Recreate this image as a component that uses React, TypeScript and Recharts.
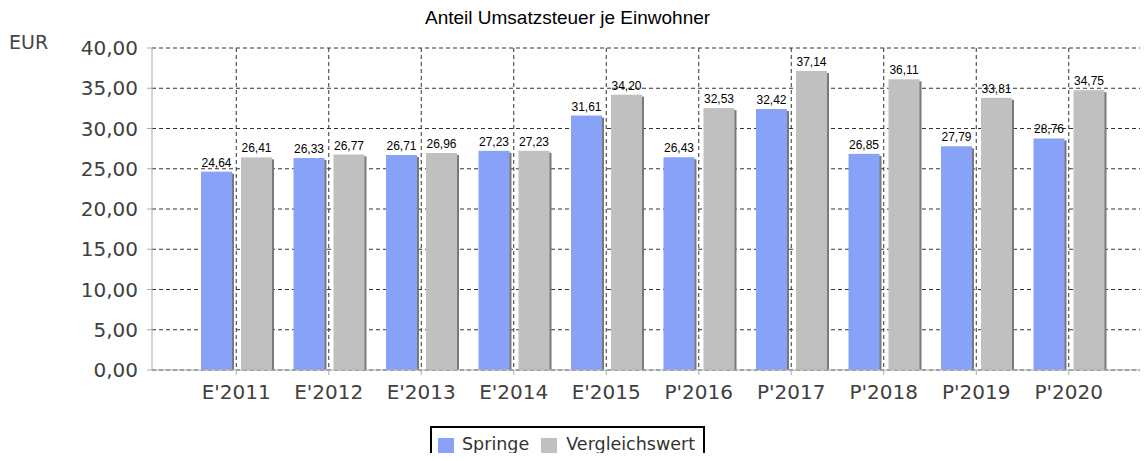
import { Bar, BarChart, CartesianGrid, LabelList, XAxis, YAxis } from 'recharts'

// Anteil Umsatzsteuer je Einwohner (EUR)
const years = ["E'2011", "E'2012", "E'2013", "E'2014", "E'2015", "P'2016", "P'2017", "P'2018", "P'2019", "P'2020"]
const springe = [24.64, 26.33, 26.71, 27.23, 31.61, 26.43, 32.42, 26.85, 27.79, 28.76]
const vergleichswert = [26.41, 26.77, 26.96, 27.23, 34.2, 32.53, 37.14, 36.11, 33.81, 34.75]
const yTicks = [0, 5, 10, 15, 20, 25, 30, 35, 40]

const chartData = years.map((year, i) => ({
  year,
  springe: springe[i],
  vergleich: vergleichswert[i],
}))

const fmt = (v: number) => v.toFixed(2).replace('.', ',')

const SANS = '"DejaVu Sans", Verdana, sans-serif'
const ARIAL = '"Liberation Sans", Arial, sans-serif'

// bar with a thin grey drop shadow on the right
function ShadowBar(props: any) {
  const { x, y, width, height, fill } = props
  if (height <= 0) return null
  return (
    <g>
      <rect x={x + 2} y={y + 2} width={width} height={height - 2} fill="#7a7a7a" />
      <rect x={x} y={y} width={width} height={height} fill={fill} />
    </g>
  )
}

function App() {
  return (
    <div style={{ position: 'relative', width: 1148, height: 461, margin: -8, overflow: 'hidden', background: '#fff' }}>
      <div style={{ position: 'absolute', top: 7, left: 425, fontFamily: ARIAL, fontSize: 19, color: '#000', whiteSpace: 'nowrap' }}>
        Anteil Umsatzsteuer je Einwohner
      </div>
      <div style={{ position: 'absolute', top: 31, left: 9, fontFamily: SANS, fontSize: 19, color: '#444' }}>EUR</div>
      <BarChart
        width={1148}
        height={461}
        data={chartData}
        margin={{ top: 48, right: 0, left: 0, bottom: 0 }}
        barGap={9}
        barCategoryGap={11}
      >
        {/* vertical grid only at the category ticks */}
        <CartesianGrid stroke="#333" strokeDasharray="4 3" verticalValues={years} horizontalValues={yTicks} />
        <XAxis
          dataKey="year"
          height={91}
          padding={{ left: 38, right: 33 }}
          stroke="#aaa"
          tickSize={5}
          tickMargin={10}
          tick={{ fill: '#404040', fontSize: 20, fontFamily: SANS }}
        />
        <YAxis
          width={152}
          domain={[0, 40]}
          ticks={yTicks}
          tickFormatter={fmt}
          stroke="#aaa"
          tickSize={5}
          tickMargin={9}
          tick={{ fill: '#404040', fontSize: 20, fontFamily: SANS }}
        />
        <Bar dataKey="springe" fill="#87a2f7" shape={ShadowBar} isAnimationActive={false}>
          <LabelList dataKey="springe" position="top" offset={5} formatter={(v: any) => fmt(v)} fill="#000" fontSize={12} fontFamily={ARIAL} />
        </Bar>
        <Bar dataKey="vergleich" fill="#c0c0c0" shape={ShadowBar} isAnimationActive={false}>
          <LabelList dataKey="vergleich" position="top" offset={5} formatter={(v: any) => fmt(v)} fill="#000" fontSize={12} fontFamily={ARIAL} />
        </Bar>
      </BarChart>
      <div
        style={{
          position: 'absolute',
          top: 426,
          left: 430,
          width: 275,
          height: 45,
          border: '2px solid #000',
          fontFamily: SANS,
          fontSize: 17.5,
          lineHeight: '20px',
          color: '#333',
          display: 'flex',
          alignItems: 'flex-start',
          paddingTop: 6,
          paddingLeft: 6,
          boxSizing: 'border-box',
          background: '#fff',
          whiteSpace: 'nowrap',
        }}
      >
        <span style={{ display: 'inline-block', width: 16, height: 15, background: '#87a2f7', marginRight: 8, marginTop: 4 }} />
        <span style={{ marginRight: 12 }}>Springe</span>
        <span style={{ display: 'inline-block', width: 16, height: 15, background: '#c0c0c0', marginRight: 9, marginTop: 4 }} />
        <span>Vergleichswert</span>
      </div>
    </div>
  )
}

export default App
